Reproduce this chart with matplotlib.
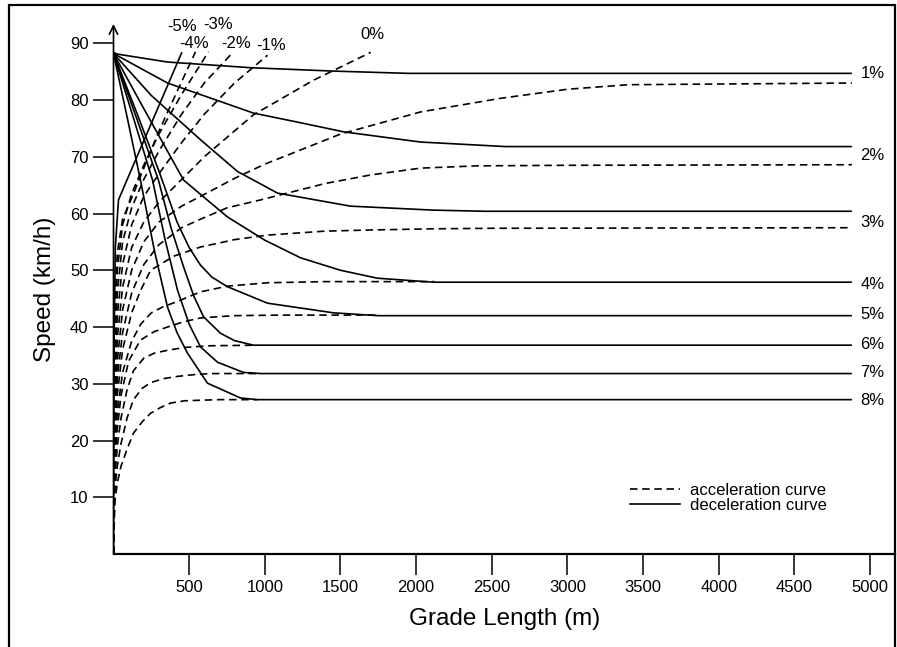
import matplotlib
matplotlib.use('Agg')
import matplotlib.pyplot as plt
from matplotlib.lines import Line2D
from matplotlib.patches import Rectangle

plt.rcParams['font.family'] = ['Liberation Sans', 'DejaVu Sans']

# deceleration curves (solid), grade in %
dec1_x = [0, 357, 905, 1454, 1950, 4880]
dec1_y = [88.2, 86.7, 85.7, 85.1, 84.7, 84.7]
dec2_x = [0, 357, 925, 1236, 1520, 2029, 2590, 4880]
dec2_y = [88.2, 83.0, 77.7, 76.0, 74.4, 72.6, 71.8, 71.8]
dec3_x = [0, 250, 575, 820, 1084, 1566, 2115, 2450, 4880]
dec3_y = [88.2, 80.8, 73.0, 67.4, 63.6, 61.3, 60.6, 60.4, 60.4]
dec4_x = [0, 200, 463, 753, 1000, 1236, 1500, 1745, 2115, 4880]
dec4_y = [88.2, 78.5, 65.9, 59.4, 55.3, 52.2, 50.0, 48.6, 47.9, 47.9]
dec5_x = [0, 150, 300, 420, 500, 575, 650, 753, 1018, 1454, 1750, 4880]
dec5_y = [88.2, 78.0, 67.5, 58.5, 54.0, 50.9, 48.8, 47.1, 44.2, 42.5, 42.0, 42.0]
dec6_x = [0, 150, 297, 380, 463, 530, 595, 707, 800, 925, 4880]
dec6_y = [88.2, 77.0, 65.9, 57.5, 50.6, 45.5, 41.8, 38.9, 37.6, 36.8, 36.8]
dec7_x = [0, 130, 258, 340, 423, 500, 575, 687, 859, 972, 4880]
dec7_y = [88.2, 77.0, 65.9, 55.5, 46.5, 40.5, 36.5, 33.8, 32.0, 31.8, 31.8]
dec8_x = [0, 90, 178, 270, 357, 420, 489, 621, 839, 950, 4880]
dec8_y = [88.2, 77.0, 65.9, 53.5, 43.5, 39.0, 35.4, 30.1, 27.5, 27.2, 27.2]

# acceleration curves on upgrades (dashed)
acc1_x = [0, 8, 25, 60, 120, 200, 300, 450, 595, 800, 1000, 1500, 2029, 2557, 3000, 3400, 4880]
acc1_y = [0, 23, 34, 43, 50, 55, 58.5, 61.3, 63.3, 66.2, 68.7, 74.0, 77.9, 80.3, 81.9, 82.7, 83.0]
acc2_x = [0, 8, 25, 60, 120, 200, 300, 450, 575, 750, 972, 1400, 1700, 2029, 2400, 3000, 4880]
acc2_y = [0, 21, 31, 39, 46, 51, 54.5, 57.5, 59.0, 61.0, 62.4, 65.3, 66.8, 68.0, 68.4, 68.5, 68.6]
acc3_x = [0, 8, 25, 60, 120, 180, 245, 400, 575, 800, 1018, 1400, 1700, 2100, 2500, 4880]
acc3_y = [0, 19, 28, 36, 42.5, 46.5, 50.0, 52.5, 54.1, 55.4, 56.2, 56.9, 57.1, 57.3, 57.4, 57.5]
acc4_x = [0, 8, 25, 60, 120, 180, 250, 330, 423, 575, 753, 1018, 1400, 2120]
acc4_y = [0, 17, 25, 32, 37.5, 40.5, 42.5, 43.6, 44.5, 46.2, 47.2, 47.8, 48.0, 48.0]
acc5_x = [0, 8, 25, 50, 100, 178, 270, 357, 460, 575, 793, 1100, 1750]
acc5_y = [0, 15, 22, 28, 34, 37.7, 39.2, 40.0, 40.9, 41.6, 42.0, 42.1, 42.1]
acc6_x = [0, 8, 25, 50, 90, 132, 200, 270, 357, 470, 641, 950]
acc6_y = [0, 13, 19, 24, 29, 32.3, 34.5, 35.4, 35.9, 36.4, 36.7, 36.8]
acc7_x = [0, 8, 25, 50, 90, 132, 190, 245, 330, 423, 530, 641, 970]
acc7_y = [0, 11, 15.5, 19.5, 24, 27.2, 29.2, 30.2, 30.9, 31.3, 31.6, 31.8, 31.8]
acc8_x = [0, 8, 25, 50, 90, 132, 190, 245, 310, 377, 470, 575, 700, 950]
acc8_y = [0, 9, 12.5, 15.5, 18.5, 21.3, 23.3, 24.8, 25.8, 26.6, 27.0, 27.1, 27.2, 27.2]

# acceleration curves on level and downgrades
acc0_x = [0, 8, 25, 60, 120, 200, 300, 450, 600, 925, 1322, 1700]
acc0_y = [0, 26, 38, 47, 54, 58.5, 62, 66, 70, 77.4, 83.5, 88.4]
accm1_x = [0, 8, 25, 60, 120, 200, 300, 450, 600, 800, 1018]
accm1_y = [0, 30, 42, 51, 58, 63, 67, 72.5, 77.5, 83, 87.9]
accm2_x = [0, 8, 25, 60, 120, 200, 300, 450, 600, 786]
accm2_y = [0, 34, 46, 55, 61, 66, 71, 77.5, 83, 88.3]
accm3_x = [0, 8, 25, 60, 120, 200, 300, 450, 628]
accm3_y = [0, 38, 50, 58, 63.5, 68.5, 74, 81, 88.5]
accm4_x = [0, 8, 25, 60, 132, 200, 300, 420, 542]
accm4_y = [0, 42, 53, 59, 63.5, 68, 74.5, 81.5, 88.5]
accm5_x = [0, 4, 12, 33, 100, 200, 300, 450]
accm5_y = [0, 38, 54, 62.4, 66.6, 72.8, 79, 88.3]

grade_labels = ['1%', '2%', '3%', '4%', '5%', '6%', '7%', '8%']
down_labels = ['-5%', '-4%', '-3%', '-2%', '-1%', '0%']
x_ticks = [500, 1000, 1500, 2000, 2500, 3000, 3500, 4000, 4500, 5000]
y_ticks = [10, 20, 30, 40, 50, 60, 70, 80, 90]

DASH = (0, (4.5, 2.8))
LW = 1.2

def main():
    fig = plt.figure(figsize=(8.97, 6.47), dpi=100)
    ax = fig.add_axes([113.5/897, 93/647, (895-113.5)/897, (554-24)/647])

    decs = [(dec1_x, dec1_y), (dec2_x, dec2_y), (dec3_x, dec3_y), (dec4_x, dec4_y),
            (dec5_x, dec5_y), (dec6_x, dec6_y), (dec7_x, dec7_y), (dec8_x, dec8_y)]
    for xs, ys in decs:
        ax.plot(xs, ys, color='black', lw=LW, solid_capstyle='butt')

    accs = [(acc1_x, acc1_y), (acc2_x, acc2_y), (acc3_x, acc3_y), (acc4_x, acc4_y),
            (acc5_x, acc5_y), (acc6_x, acc6_y), (acc7_x, acc7_y), (acc8_x, acc8_y),
            (acc0_x, acc0_y), (accm1_x, accm1_y), (accm2_x, accm2_y),
            (accm3_x, accm3_y), (accm4_x, accm4_y)]
    for xs, ys in accs:
        ax.plot(xs, ys, color='black', lw=LW, ls=DASH)
    # the -5% curve is drawn solid in the original
    ax.plot(accm5_x, accm5_y, color='black', lw=LW)

    ax.plot([0], [88.2], 'o', color='black', ms=2.5)

    # labels at the right end
    label_y = [84.6, 70.3, 58.5, 47.5, 42.2, 37.0, 31.9, 27.0]
    for lab, yy in zip(grade_labels, label_y):
        ax.text(4937, yy, lab, ha='left', va='center', fontsize=12)

    # labels at the top
    top_x = [456, 535, 694, 813, 1044, 1712]
    top_y = [93.0, 90.0, 93.4, 90.0, 89.6, 91.5]
    for lab, xx, yy in zip(down_labels, top_x, top_y):
        ax.text(xx, yy, lab, ha='center', va='center', fontsize=12)

    ax.set_xlim(0, 5165)
    ax.set_ylim(0, 93.4)
    ax.set_xticks(x_ticks)
    ax.set_yticks(y_ticks)
    ax.tick_params(axis='both', direction='out', length=15, width=1.1, labelsize=12)
    ax.tick_params(axis='x', pad=4)
    ax.tick_params(axis='y', pad=3)
    for pos in ['top', 'right', 'left']:
        ax.spines[pos].set_visible(False)
    ax.spines['bottom'].set_linewidth(1.6)
    ax.annotate('', xy=(0, 1), xytext=(0, 0), xycoords='axes fraction',
                arrowprops=dict(arrowstyle='->', lw=1.2, color='black',
                                shrinkA=0, shrinkB=0, mutation_scale=15))

    ax.set_xlabel('Grade Length (m)', fontsize=17.5, labelpad=9)
    ax.set_ylabel('Speed (km/h)', fontsize=17.5, labelpad=10)

    handles = [Line2D([], [], color='black', lw=LW, ls=DASH),
               Line2D([], [], color='black', lw=LW)]
    fig.legend(handles, ['acceleration curve', 'deceleration curve'],
               loc='upper left', bbox_to_anchor=(630/897, 1-483/647),
               frameon=False, fontsize=12, handlelength=3.0, handletextpad=0.6,
               labelspacing=0.0, borderpad=0, borderaxespad=0)

    fig.patches.append(Rectangle((9/897, -0.05), (895-9)/897, 1-5/647+0.05,
                                 transform=fig.transFigure, fill=False,
                                 lw=1.6, color='black'))

    fig.savefig('out.png', dpi=100)

if __name__ == '__main__':
    main()
